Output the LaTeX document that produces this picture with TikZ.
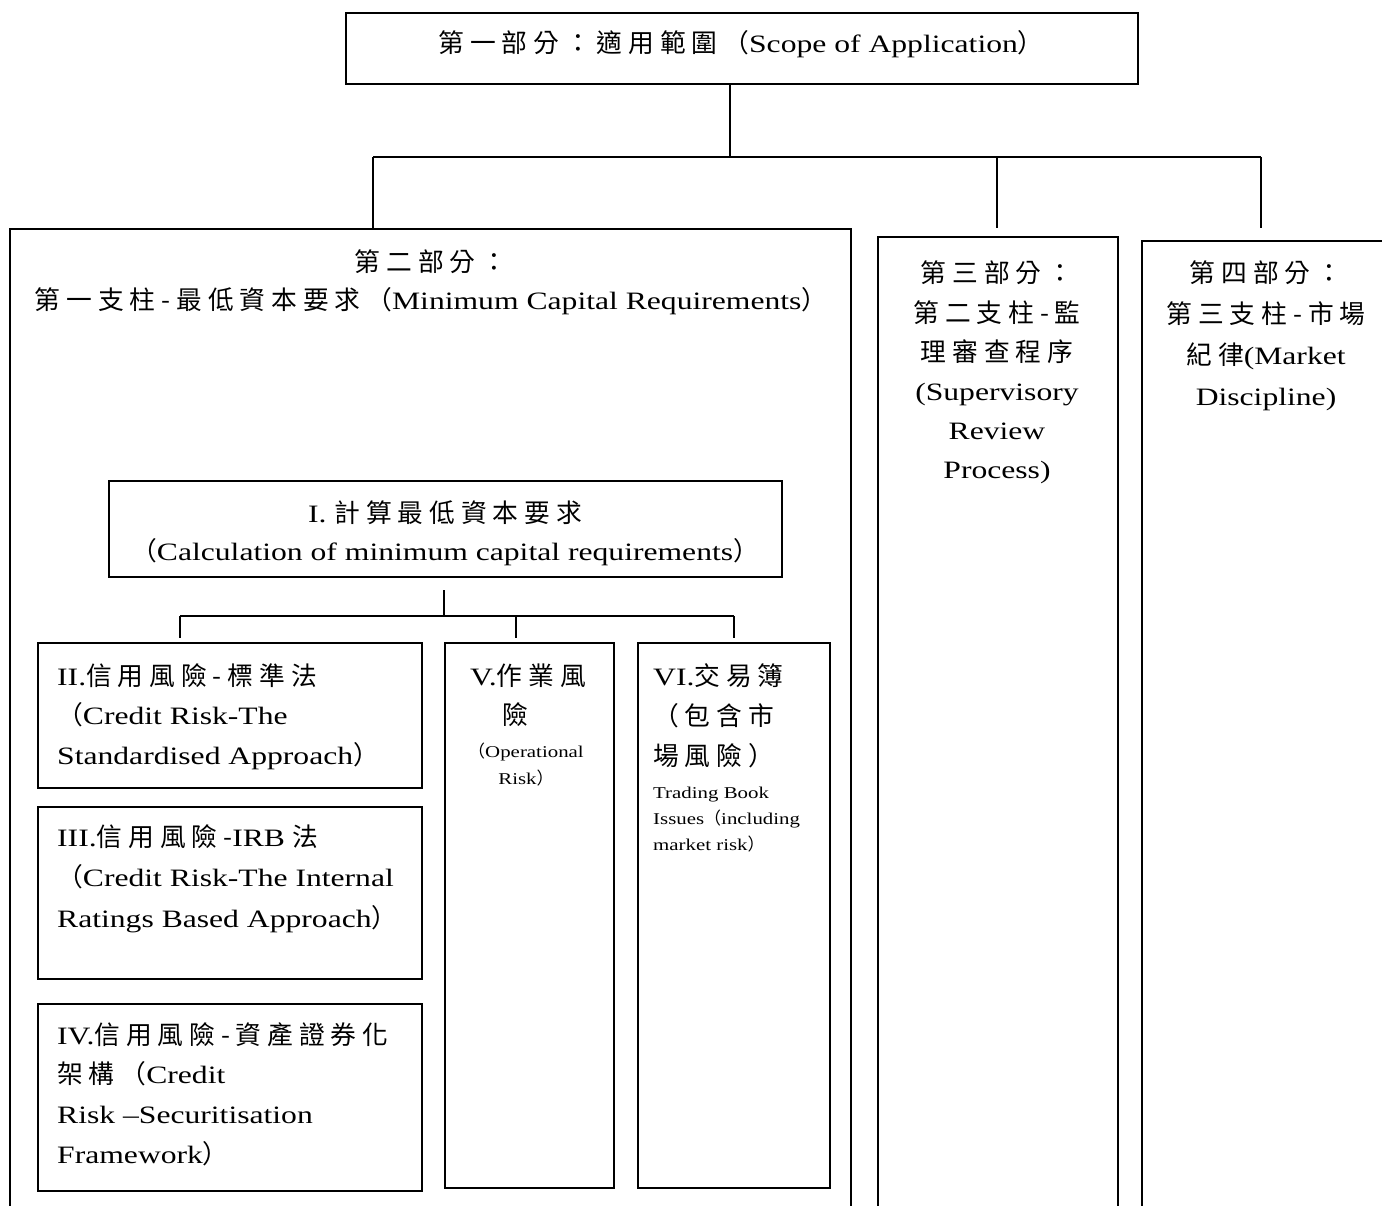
\documentclass[tikz,border=0pt]{standalone}
\usepackage{fontspec}
\setmainfont{Liberation Serif}[FakeStretch=1.265]
\newfontfamily\zh{Noto Sans CJK TC}[Scale=1.03,LetterSpace=23]
\newcommand\Tblk[3]{{\fontsize{25}{#2}\selectfont\begin{tabular}[t]{@{}#1@{}}#3\end{tabular}}}
\newcommand\Sblk[3]{{\fontsize{16.5}{#2}\selectfont\begin{tabular}[t]{@{}#1@{}}#3\end{tabular}}}
\tikzset{
  box/.style={draw, line width=1.8pt, inner sep=0pt, rectangle, anchor=north west},
  conn/.style={line width=1.8pt},
  txt/.style={inner sep=0pt},
}
\begin{document}
\begin{tikzpicture}[x=1pt,y=-1pt]
\useasboundingbox[fill=white] (0,0) rectangle (1382,1206);
\clip (0,0) rectangle (1382,1206);

% boxes
\node[box, minimum width=792pt, minimum height=71pt] (top) at (345,12) {};
\node[box, minimum width=841pt, minimum height=1010pt] (p2) at (9,228) {};
\node[box, minimum width=240pt, minimum height=1000pt] (p3) at (877,236) {};
\node[box, minimum width=300pt, minimum height=1000pt] (p4) at (1141,240) {};
\node[box, minimum width=673pt, minimum height=96pt] (c1) at (108,480) {};
\node[box, minimum width=384pt, minimum height=145pt] (c2) at (37,642) {};
\node[box, minimum width=384pt, minimum height=172pt] (c3) at (37,806) {};
\node[box, minimum width=384pt, minimum height=187pt] (c4) at (37,1003) {};
\node[box, minimum width=169pt, minimum height=545pt] (c5) at (444,642) {};
\node[box, minimum width=192pt, minimum height=545pt] (c6) at (637,642) {};

% texts
\node[txt, anchor=base] (ttop) at (741,53)
  {\Tblk{c}{39}{{\zh 第一部分：適用範圍（}Scope of Application{\zh ）}}};
\node[txt, anchor=base] (tp2) at (431,272)
  {\Tblk{c}{38}{{\zh 第二部分：}\\ {\zh 第一支柱-最低資本要求（}Minimum Capital Requirements{\zh ）}}};
\node[txt, anchor=base] (tp3) at (997,283)
  {\Tblk{c}{39.2}{{\zh 第三部分：}\\ {\zh 第二支柱-監}\\ {\zh 理審查程序}\\ (Supervisory\\ Review\\ Process)}};
\node[txt, anchor=base] (tp4) at (1266,283)
  {\Tblk{c}{41}{{\zh 第四部分：}\\ {\zh 第三支柱-市場}\\ {\zh 紀律}(Market\\ Discipline)}};
\node[txt, anchor=base] (tc1) at (445,522)
  {\Tblk{c}{38}{I. {\zh 計算最低資本要求}\\ {\zh （}Calculation of minimum capital requirements{\zh ）}}};
\node[txt, anchor=base west] (tc2) at (57,685)
  {\Tblk{l}{39.5}{II.{\zh 信用風險-標準法}\\ {\zh （}Credit Risk-The\\ Standardised Approach{\zh ）}}};
\node[txt, anchor=base west] (tc3) at (57,846)
  {\Tblk{l}{40.5}{III.{\zh 信用風險-}IRB {\zh 法}\\ {\zh （}Credit Risk-The Internal\\ Ratings Based Approach{\zh ）}}};
\node[txt, anchor=base west] (tc4) at (57,1044)
  {\Tblk{l}{39.7}{IV.{\zh 信用風險-資產證券化}\\ {\zh 架構（}Credit\\ Risk –Securitisation\\ Framework{\zh ）}}};
\node[txt, anchor=base] (tc5) at (528,685)
  {\Tblk{c}{39}{V.{\zh 作業風}\\ {\zh 險}\kern26pt}};
\node[txt, anchor=base] (tc5s) at (526,757)
  {\Sblk{c}{27}{{\zh （}Operational\\ Risk{\zh ）}}};
\node[txt, anchor=base west] (tc6) at (653,685)
  {\Tblk{l}{40}{VI.{\zh 交易簿}\\ {\zh （包含市}\\ {\zh 場風險）}}};
\node[txt, anchor=base west] (tc6s) at (653,798)
  {\Sblk{l}{26}{Trading Book\\ Issues{\zh （}including\\ market risk{\zh ）}}};

% connectors, upper level
\coordinate (j0) at (730,157);
\coordinate (b2) at (373,157);
\coordinate (b3) at (997,157);
\coordinate (b4) at (1261,157);
\coordinate (e3) at (997,228);
\coordinate (e4) at (1261,228);
\draw[conn] (top.south -| j0) -- (j0);
\draw[conn] (b2) -- (b4);
\draw[conn] (b2) -- (b2 |- p2.north);
\draw[conn] (b3) -- (e3);
\draw[conn] (b4) -- (e4);

% connectors, lower level
\coordinate (k0) at (444,590);
\coordinate (k1) at (444,616);
\coordinate (m2) at (180,616);
\coordinate (m5) at (516,616);
\coordinate (m6) at (734,616);
\coordinate (f2) at (180,638);
\coordinate (f5) at (516,638);
\coordinate (f6) at (734,638);
\draw[conn] (k0) -- (k1);
\draw[conn] (m2) -- (m6);
\draw[conn] (m2) -- (f2);
\draw[conn] (m5) -- (f5);
\draw[conn] (m6) -- (f6);
\end{tikzpicture}
\end{document}
